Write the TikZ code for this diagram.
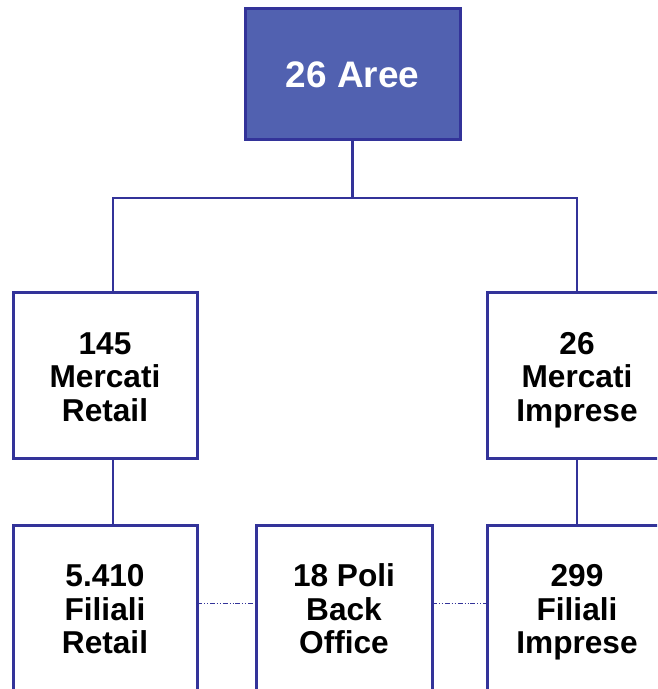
\documentclass[tikz,border=0pt]{standalone}
\usepackage{fontspec}
\setmainfont{Liberation Sans}
\usepackage{xcolor}
\usepackage{tikz}
\usetikzlibrary{positioning}
\definecolor{lineBlue}{RGB}{51, 51, 153}
\definecolor{areeBlue}{RGB}{81, 97, 176}

\begin{document}
\begin{tikzpicture}[
    basebox/.style={rectangle, draw=lineBlue, line width=0.06cm, outer sep=0pt, align=center},
    topbox/.style={basebox, fill=areeBlue, text=white, font=\fontsize{21}{24}\selectfont\bfseries, minimum width=4.3cm, minimum height=2.62cm},
    unitbox/.style={basebox, fill=white, text=black, font=\fontsize{18}{19}\selectfont\bfseries, minimum width=3.68cm, minimum height=3.3cm, text height=1.82cm, text depth=0pt},
    lowbox/.style={unitbox, minimum height=3.32cm},
    link/.style={draw=lineBlue, line width=0.05cm},
    barlink/.style={draw=lineBlue, line width=0.03cm},
    dotlink/.style={draw=lineBlue, line width=0.02cm, dash pattern=on 2.8pt off 1.1pt on 0.6pt off 1.1pt on 0.6pt off 1.1pt}
  ]
    \useasboundingbox (0,0) rectangle (13.14,-13.78);
    \clip (0,0) rectangle (13.14,-13.78);

    \node[topbox] (aree) at (7.05,-1.49) {26 Aree};
    \node[unitbox] (retail) at (2.10,-7.51) {145\\Mercati\\Retail};
    \node[unitbox, minimum width=3.6cm] (imprese) at (11.54,-7.51) {26\\Mercati\\Imprese};
    \node[lowbox, below=1.34cm of retail] (filretail) {5.410\\Filiali\\Retail};
    \node[lowbox, minimum width=3.52cm, right=1.18cm of filretail] (poli) {18 Poli\\Back\\Office};
    \node[lowbox, minimum width=3.6cm, below=1.34cm of imprese] (filimprese) {299\\Filiali\\Imprese};

    \coordinate[below=1.16cm of aree] (split);
    \coordinate[xshift=0.16cm] (retailtop) at (retail.north);
    \coordinate[xshift=0.16cm] (retailbot) at (retail.south);
    \path[link] (aree.south) -- (split);
    \path[barlink] (retailtop) |- (split) -| (imprese.north);
    \path[link] (retailtop) -- ++(0,1.9);
    \path[link] (imprese.north) -- ++(0,1.9);
    \path[link] (retailbot) -- (retailbot |- filretail.north);
    \path[link] (imprese) -- (filimprese);
    \path[dotlink] ([yshift=0.09cm]filretail.east) -- ([yshift=0.09cm]poli.west);
    \path[dotlink] ([yshift=0.09cm]poli.east) -- ([yshift=0.09cm]filimprese.west);
  \end{tikzpicture}
\end{document}
